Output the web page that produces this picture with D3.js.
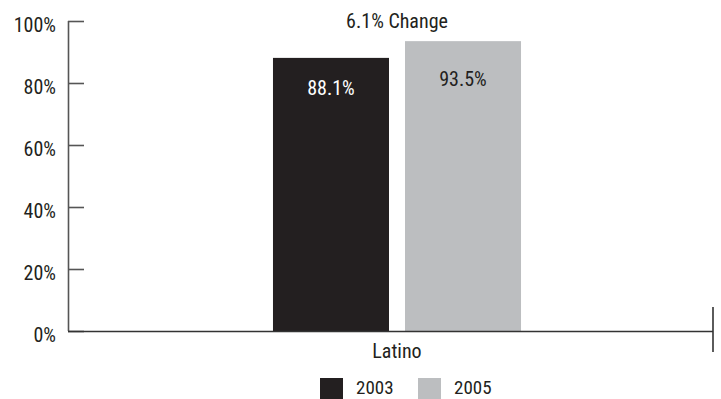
<!DOCTYPE html>
<html><head><meta charset="utf-8">
<script src="https://cdn.jsdelivr.net/npm/d3@7"></script>
<style>
body{margin:0;background:#fff;}
text{font-family:"Liberation Sans Narrow","Arial Narrow","Roboto Condensed",Roboto,sans-serif;font-stretch:condensed;}
</style></head>
<body><svg id="c" width="721" height="399"></svg>
<script>
const categories = ["Latino"];
const years = ["2003","2005"];
const values2003 = [88.1];
const values2005 = [93.5];
const yTicks = [0,20,40,60,80,100];
const changeLabels = ["6.1% Change"];
const colors = ["#231f20","#bcbec0"];

(function(){
const svg = d3.select("#c");
const mLeft = 68, mRight = 713, mTop = 21, mBottom = 331;
const y = d3.scaleLinear().domain([0,100]).range([mBottom, mTop]);
const x0 = d3.scaleBand().domain(categories).range([81, mRight]).paddingInner(0).paddingOuter(0.774);
const x1 = d3.scaleBand().domain(years).range([0, x0.bandwidth()]).paddingInner(0.1212).paddingOuter(0);
const fs = 20;

const series = [values2003, values2005];
categories.forEach((c,i)=>{
  const g = svg.append("g").attr("transform",`translate(${x0(c)},0)`);
  years.forEach((yr,j)=>{
    const v = series[j][i];
    g.append("rect").attr("x",x1(yr)).attr("y",y(v)).attr("width",x1.bandwidth()).attr("height",y(0)-y(v)).attr("fill",colors[j]);
    g.append("text").attr("x",x1(yr)+x1.bandwidth()/2).attr("y",y(v)+(j===0?37:45))
      .attr("text-anchor","middle").attr("font-size",fs).attr("fill",j===0?"#fff":"#231f20").text(v.toFixed(1)+"%");
  });
  svg.append("text").attr("x",x0(c)+x0.bandwidth()/2).attr("y",28).attr("text-anchor","middle")
    .attr("font-size",fs).attr("fill","#231f20").text(changeLabels[i]);
  svg.append("text").attr("x",x0(c)+x0.bandwidth()/2).attr("y",358).attr("text-anchor","middle")
    .attr("font-size",fs).attr("fill","#231f20").text(c);
});

const yAxis = d3.axisRight(y).tickValues(yTicks).tickSize(16).tickFormat("");
const ga = svg.append("g").attr("transform",`translate(${mLeft},0)`).call(yAxis);
ga.selectAll("path,line").attr("stroke","#555").attr("stroke-width",1.6);
ga.select(".domain").attr("d",`M0.5,${mTop}V${mBottom}`);
svg.selectAll(".ylab").data(yTicks).join("text").attr("class","ylab")
  .attr("x",56).attr("y",d=>y(d)+11).attr("text-anchor","end").attr("font-size",fs).attr("fill","#231f20")
  .text(d=>d+"%");

svg.append("line").attr("x1",mLeft).attr("x2",mRight).attr("y1",mBottom+0.5).attr("y2",mBottom+0.5).attr("stroke","#333").attr("stroke-width",1.6);
svg.append("line").attr("x1",mRight).attr("x2",mRight).attr("y1",307).attr("y2",352).attr("stroke","#333").attr("stroke-width",1.6);

const lg = svg.append("g");
const lx = [320, 418];
years.forEach((yr,j)=>{
  lg.append("rect").attr("x",lx[j]).attr("y",378).attr("width",23).attr("height",21).attr("fill",colors[j]);
  lg.append("text").attr("x",lx[j]+36).attr("y",394).attr("font-size",19).attr("fill","#231f20").text(yr);
});
})();
</script></body></html>
